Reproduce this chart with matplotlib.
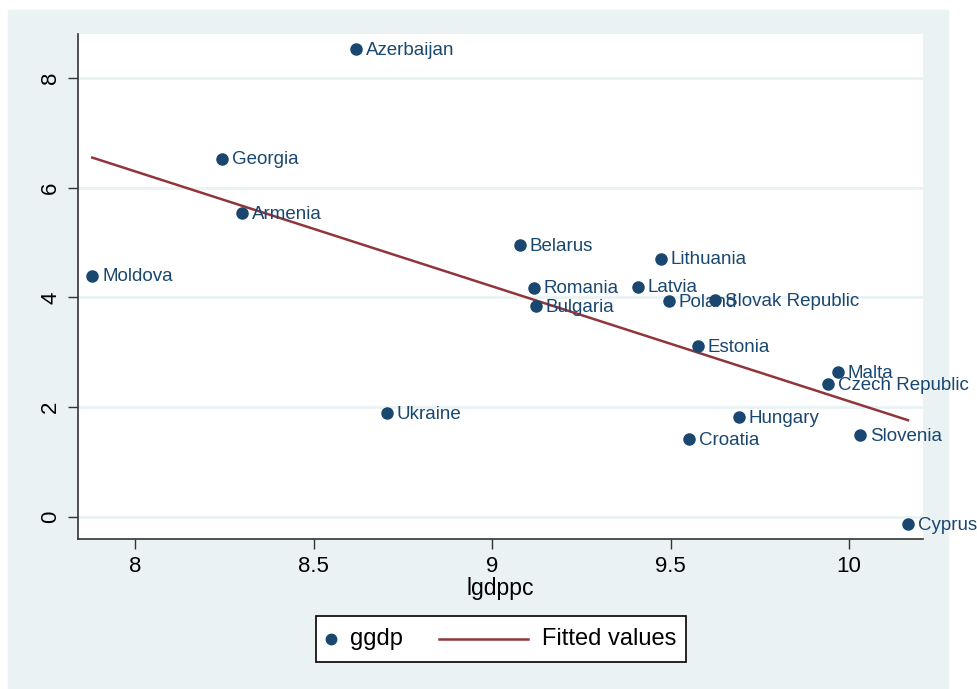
import matplotlib.pyplot as plt
import numpy as np
from matplotlib.lines import Line2D
from matplotlib.offsetbox import DrawingArea, TextArea, HPacker, AnchoredOffsetbox

plt.rcParams['font.family'] = ['Liberation Sans', 'DejaVu Sans']

# datos
countries = ['Azerbaijan', 'Georgia', 'Armenia', 'Moldova', 'Belarus', 'Romania',
             'Bulgaria', 'Latvia', 'Lithuania', 'Poland', 'Slovak Republic', 'Estonia',
             'Malta', 'Czech Republic', 'Hungary', 'Croatia', 'Slovenia', 'Ukraine', 'Cyprus']
lgdppc = [8.619, 8.244, 8.300, 7.880, 9.078, 9.118,
          9.123, 9.409, 9.473, 9.496, 9.625, 9.577,
          9.969, 9.941, 9.692, 9.552, 10.031, 8.706, 10.165]
ggdp = [8.53, 6.53, 5.53, 4.40, 4.95, 4.18,
        3.84, 4.20, 4.71, 3.93, 3.945, 3.11,
        2.636, 2.418, 1.82, 1.42, 1.49, 1.89, -0.13]

navy = '#1A476F'
maroon = '#90353B'
panel = '#EAF2F3'

x = np.array(lgdppc)
y = np.array(ggdp)
b, a = np.polyfit(x, y, 1)  # recta ajustada (Fitted values)
xs = np.array([x.min(), x.max()])

fig = plt.figure(figsize=(9.78, 6.89), dpi=100)
fig.patch.set_facecolor('white')
# fondo gris azulado tipo Stata
fig.patches.append(plt.Rectangle((8 / 978, 1 - 688 / 689), 940 / 978, 678 / 689,
                                 transform=fig.transFigure, color=panel, zorder=-10))

ax = fig.add_axes([78 / 978, 1 - 539 / 689, 845 / 978, 505 / 689])
ax.set_zorder(5)
ax.set_facecolor('white')
ax.set_xlim(7.84, 10.207)
ax.set_ylim(-0.4, 8.8)

for v in [0, 2, 4, 6, 8]:
    ax.axhline(v, color=panel, lw=2, zorder=1)

ax.scatter(x, y, s=64, color=navy, zorder=3)
ax.plot(xs, a + b * xs, color=maroon, lw=1.8, zorder=2)

for c, xi, yi in zip(countries, x, y):
    ax.annotate(c, (xi, yi), xytext=(7, -1), textcoords='offset points',
                va='center', ha='left', color=navy, fontsize=13.5,
                annotation_clip=False, zorder=4)

ax.set_xticks([8, 8.5, 9, 9.5, 10])
ax.set_xticklabels(['8', '8.5', '9', '9.5', '10'])
ax.set_yticks([0, 2, 4, 6, 8])
ax.tick_params(axis='both', direction='out', length=7, width=1, color='#333333',
               labelsize=16, pad=5)
plt.setp(ax.get_yticklabels(), rotation=90, va='center')
for s in ['top', 'right']:
    ax.spines[s].set_visible(False)
for s in ['left', 'bottom']:
    ax.spines[s].set_color('#333333')
    ax.spines[s].set_linewidth(1.2)
ax.set_xlabel('lgdppc', fontsize=16.5, labelpad=0)

# leyenda hecha a mano (marcador pegado al texto como en Stata)
da1 = DrawingArea(8, 20)
da1.add_artist(Line2D([4], [10], marker='o', ms=7.5, color=navy, ls='none'))
da2 = DrawingArea(64, 20)
da2.add_artist(Line2D([0, 64], [10, 10], color=maroon, lw=1.8))
t1 = TextArea('ggdp', textprops=dict(size=17))
t2 = TextArea('Fitted values', textprops=dict(size=17))
e1 = HPacker(children=[da1, t1], sep=10, align='center')
e2 = HPacker(children=[da2, t2], sep=10, align='center')
row = HPacker(children=[e1, e2], sep=26, align='center')
box = AnchoredOffsetbox(loc='center', child=row, pad=0.4, borderpad=0,
                        prop=dict(size=17), frameon=True,
                        bbox_to_anchor=(501 / 978, 1 - 639 / 689),
                        bbox_transform=fig.transFigure)
box.patch.set_facecolor('white')
box.patch.set_edgecolor('black')
box.patch.set_linewidth(1.2)
box.patch.set_boxstyle('square', pad=0)
ax.add_artist(box)

fig.savefig('out.png', dpi=100)
